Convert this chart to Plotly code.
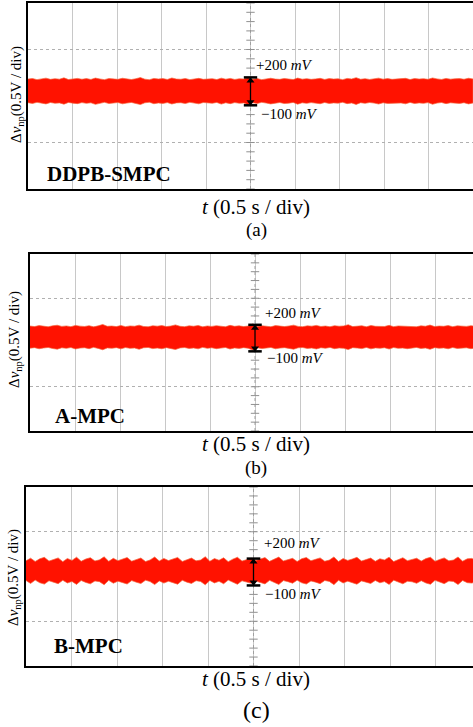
import numpy as np
import plotly.graph_objects as go

# ---------------- data (mV envelopes of the noisy ripple band) ----------------
panel_names = ["DDPB-SMPC", "A-MPC", "B-MPC"]
panel_tags = ["(a)", "(b)", "(c)"]
ripple_hi_mv = [200, 200, 200]
ripple_lo_mv = [-100, -100, -100]

A_up = [182,188,176,185,192,179,186,181,195,177,184,189,180,187,178,193,183,176,188,185,
        179,191,184,177,186,198,181,175,189,183,187,178,194,182,180,188,176,185,190,179,
        184,186,177,192,181,189,178,185,183,196,180,187,176,184,191,182,179,188,185,177,
        193,181,186,179,184,190,178,187,182,185,176,189,183,197,180,186,178,184,192,181,
        187,179,185,183,190,177,188,182,186,179,194,184,178,189,181,185,187,180,191,183]
A_lo = [-72,-80,-68,-76,-85,-70,-78,-74,-88,-69,-77,-82,-71,-79,-73,-90,-75,-68,-81,-77,
        -70,-84,-76,-69,-79,-92,-73,-67,-83,-75,-80,-71,-86,-74,-72,-81,-68,-77,-84,-70,
        -76,-78,-69,-87,-73,-82,-71,-78,-75,-95,-72,-80,-68,-76,-85,-74,-70,-81,-77,-69,
        -88,-73,-79,-71,-76,-83,-70,-80,-74,-77,-68,-82,-75,-91,-72,-79,-70,-76,-86,-73,
        -80,-71,-77,-75,-84,-69,-81,-74,-79,-71,-89,-76,-70,-82,-73,-77,-80,-72,-85,-75]

B_up = [186,180,191,184,178,189,195,182,187,179,193,185,181,190,177,188,204,183,186,180,
        192,179,187,184,196,181,178,189,185,191,180,186,199,183,179,188,184,192,177,187,
        182,190,185,178,194,183,188,180,186,209,181,189,184,178,191,185,180,187,196,182,
        179,188,185,193,181,186,178,190,184,187,201,180,185,189,178,192,183,186,181,194,
        179,187,185,190,182,178,188,184,197,180,186,183,191,179,188,185,182,190,184,187]
B_lo = [-64,-58,-71,-62,-56,-68,-75,-60,-66,-57,-73,-63,-59,-70,-55,-67,-82,-61,-65,-58,
        -72,-57,-66,-62,-77,-59,-56,-69,-63,-71,-58,-65,-79,-61,-57,-67,-62,-72,-55,-66,
        -60,-70,-63,-56,-74,-61,-67,-58,-65,-86,-59,-69,-62,-56,-71,-63,-58,-66,-76,-60,
        -57,-67,-63,-73,-59,-65,-56,-70,-62,-66,-80,-58,-63,-69,-56,-72,-61,-65,-59,-74,
        -57,-66,-63,-70,-60,-56,-67,-62,-77,-58,-65,-61,-71,-57,-67,-63,-60,-70,-62,-66]

C_up = [175,205,168,198,214,172,190,208,166,201,180,216,170,195,210,174,186,220,169,203,
        177,199,212,171,193,207,167,185,218,173,202,178,196,213,168,191,206,175,184,221,
        170,200,182,209,166,194,215,172,188,204,179,197,211,169,190,217,174,186,203,167,
        199,212,176,192,208,171,183,219,168,201,180,195,214,173,189,206,170,198,185,216,
        167,193,210,177,187,204,172,200,215,169,191,208,175,184,218,171,197,202,178,194]
C_lo = [-45,-78,-40,-70,-85,-48,-62,-80,-42,-73,-55,-88,-44,-66,-82,-50,-58,-92,-43,-75,
        -52,-70,-84,-46,-64,-79,-41,-57,-90,-49,-74,-53,-68,-86,-42,-63,-78,-47,-56,-93,
        -44,-72,-54,-81,-40,-65,-87,-48,-60,-76,-51,-69,-83,-43,-62,-89,-46,-58,-75,-41,
        -71,-84,-50,-63,-80,-45,-55,-91,-42,-73,-52,-67,-86,-49,-61,-78,-44,-70,-57,-88,
        -41,-65,-82,-53,-59,-76,-47,-72,-87,-43,-63,-80,-51,-56,-90,-45,-69,-74,-54,-66]

uppers = [A_up, B_up, C_up]
lowers = [A_lo, B_lo, C_lo]

# ---------------- layout geometry (pixels of the 473x727 page) ----------------
W, H = 473, 727
frames = [  # left, top, bottom (px), x-range end (s)
    (28, 3, 189, 5.0),
    (30, 254, 431, 4.922),
    (26, 487, 666, 4.912),
]
label_pos = [  # (+200 x,y), (-100 x,y), name (x,y)
    ((2.54, 0.333), (2.60, -0.19), (0.19, -0.84)),
    ((2.59, 0.333), (2.61, -0.175), (0.256, -0.83)),
    ((2.59, 0.374), (2.60, -0.196), (0.286, -0.78)),
]
xtitle_y = [207, 444, 679]
tag_y = [230, 468, 710]
tag_size = [19, 19, 24]
ytitle = [(17, 95), (15, 340), (14, 578)]

SERIF = "Liberation Serif, Times New Roman, serif"

fig = go.Figure()
layout = dict(width=W, height=H, margin=dict(l=0, r=0, t=0, b=0),
              paper_bgcolor="white", plot_bgcolor="white", showlegend=False)
annotations = []
shapes = []

for i in range(3):
    left, top, bottom, xend = frames[i]
    xa = "xaxis" if i == 0 else f"xaxis{i+1}"
    ya = "yaxis" if i == 0 else f"yaxis{i+1}"
    xr = "x" if i == 0 else f"x{i+1}"
    yr = "y" if i == 0 else f"y{i+1}"
    layout[xa] = dict(domain=[left / W, 1.0], range=[0, xend], anchor=yr,
                      dtick=0.5, tick0=0, showticklabels=False, ticks="",
                      showgrid=True, gridcolor="#c8c8c8", gridwidth=1,
                      zeroline=False, showline=True, linecolor="black",
                      linewidth=2, mirror=True, fixedrange=True)
    layout[ya] = dict(domain=[1 - bottom / H, 1 - top / H], range=[-1, 1],
                      anchor=xr, dtick=0.5, tick0=0, showticklabels=False,
                      ticks="", showgrid=True, gridcolor="#b0b0b0", gridwidth=1,
                      griddash="dot", zeroline=False, showline=True,
                      linecolor="black", linewidth=2, mirror=False,
                      fixedrange=True)

    # center graticule line with minor ticks
    ticks_y = np.round(np.arange(-1.0, 1.0001, 0.1), 2)
    fig.add_trace(go.Scatter(x=[2.5] * len(ticks_y), y=ticks_y, xaxis=xr, yaxis=yr,
                             mode="lines+markers",
                             line=dict(color="#a0a0a0", width=1, dash="dot"),
                             marker=dict(symbol="line-ew", size=6,
                                         line=dict(color="#909090", width=1)),
                             hoverinfo="skip"))

    # ripple band
    up = np.array(uppers[i]) / 1000.0
    lo = np.array(lowers[i]) / 1000.0
    xu = np.linspace(0, 5.0, len(up))
    xl = np.linspace(0, 5.0, len(lo))
    bx = list(xu) + list(xl[::-1])
    by = list(up) + list(lo[::-1])
    fig.add_trace(go.Scatter(x=bx, y=by, xaxis=xr, yaxis=yr, mode="lines",
                             fill="toself", fillcolor="#ff1200",
                             line=dict(color="rgba(245,100,60,0.85)", width=0.8),
                             hoverinfo="skip"))

    # ripple arrow: shaft with arrow heads, plus end caps
    hi = ripple_hi_mv[i] / 1000.0
    lo_v = ripple_lo_mv[i] / 1000.0
    fig.add_trace(go.Scatter(x=[2.5, 2.5], y=[hi, lo_v], xaxis=xr, yaxis=yr,
                             mode="lines", line=dict(color="black", width=1.3),
                             hoverinfo="skip"))
    fig.add_trace(go.Scatter(x=[2.5, 2.5], y=[hi - 0.035, lo_v + 0.035],
                             xaxis=xr, yaxis=yr, mode="markers",
                             marker=dict(symbol=["triangle-up", "triangle-down"],
                                         size=7, color="black"),
                             hoverinfo="skip"))
    for v in (hi, lo_v):
        shapes.append(dict(type="line", xref=xr, yref=yr, x0=2.425, x1=2.575,
                           y0=v, y1=v, line=dict(color="black", width=2.5)))

    (px, py), (nx, ny), (lx, ly) = label_pos[i]
    annotations.append(dict(x=px, y=py, xref=xr, yref=yr, xanchor="left",
                            yanchor="middle", showarrow=False,
                            text="+200 <i>mV</i>",
                            font=dict(family=SERIF, size=15, color="black")))
    annotations.append(dict(x=nx, y=ny, xref=xr, yref=yr, xanchor="left",
                            yanchor="middle", showarrow=False,
                            text="\u2212100 <i>mV</i>",
                            font=dict(family=SERIF, size=15, color="black")))
    annotations.append(dict(x=lx, y=ly, xref=xr, yref=yr, xanchor="left",
                            yanchor="middle", showarrow=False,
                            text=f"<b>{panel_names[i]}</b>",
                            font=dict(family=SERIF, size=21, color="black")))
    # axis titles
    annotations.append(dict(x=256 / W, y=1 - xtitle_y[i] / H, xref="paper",
                            yref="paper", xanchor="center", yanchor="middle",
                            showarrow=False, text="<i>t</i> (0.5 s / div)",
                            font=dict(family=SERIF, size=21, color="black")))
    annotations.append(dict(x=256 / W, y=1 - tag_y[i] / H, xref="paper",
                            yref="paper", xanchor="center", yanchor="middle",
                            showarrow=False, text=panel_tags[i],
                            font=dict(family=SERIF, size=tag_size[i], color="black")))
    yx, yy = ytitle[i]
    annotations.append(dict(x=yx / W, y=1 - yy / H, xref="paper", yref="paper",
                            xanchor="center", yanchor="middle", showarrow=False,
                            textangle=-90,
                            text="\u0394<i>v</i><sub>np</sub>(0.5V / div)",
                            font=dict(family=SERIF, size=15, color="black")))

layout["annotations"] = annotations
layout["shapes"] = shapes
fig.update_layout(**layout)
fig.write_html("out.html", config={"displayModeBar": False})
